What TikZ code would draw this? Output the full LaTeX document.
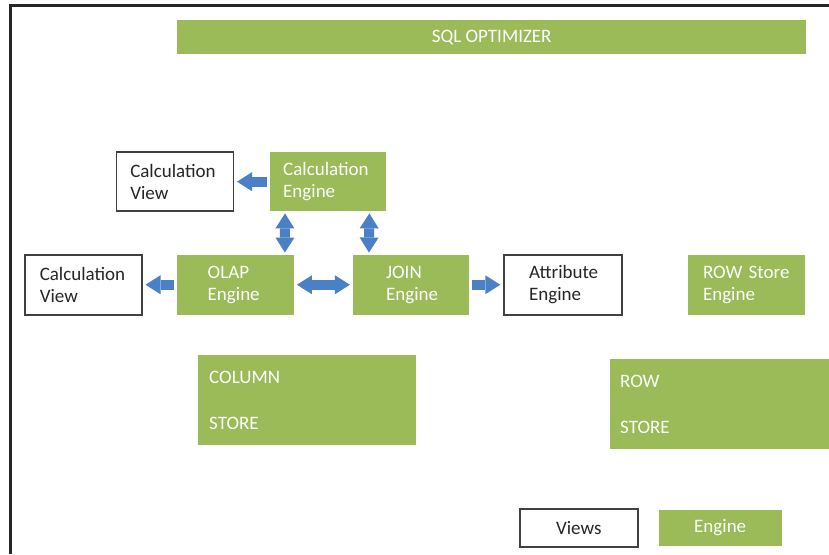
\documentclass[tikz,border=0pt]{standalone}
\usepackage{fontspec}
\setmainfont{Carlito}
\usetikzlibrary{positioning,arrows.meta}
\definecolor{enggreen}{RGB}{155,187,89}
\definecolor{flowblue}{RGB}{74,128,198}
\definecolor{viewtext}{RGB}{38,38,38}

\begin{document}
\begin{tikzpicture}[
        x=1pt, y=-1pt,
        node distance=36pt,
        engine/.style={rectangle, fill=enggreen, text=white, anchor=north west,
                       align=left, inner ysep=0pt, font=\fontsize{19}{22}\selectfont},
        views/.style={rectangle, draw=black!75, line width=1.5pt, fill=white, text=viewtext,
                      anchor=north west, align=left, inner ysep=0pt, font=\fontsize{19}{22}\selectfont},
        flow/.style={draw=flowblue, line width=10pt, shorten <=3pt, shorten >=3pt,
                     -{Triangle[length=15pt, width=19pt, line width=0pt]}},
        twoway/.style={draw=flowblue, line width=10pt, shorten <=3pt, shorten >=3pt,
                       {Triangle[length=15pt, width=19pt, line width=0pt]}-{Triangle[length=15pt, width=19pt, line width=0pt]}}
    ]
    \useasboundingbox (0,0) rectangle (829,554);
    % frame
    \draw[line width=2.5pt, black!85] (829,5.5) -- (10.5,5.5) -- (10.5,554);

    \node[engine, align=center, minimum width=629pt, minimum height=34pt] (optimizer) at (177,20) {SQL OPTIMIZER};

    % top row
    \node[engine, text width=90pt, inner xsep=13pt, minimum height=59pt] (calcengine) at (270,152) {Calculation\\Engine};
    \node[views, text width=89pt, inner xsep=14pt, minimum height=59pt, left=36pt of calcengine] (calcview) {Calculation\\View};

    % middle row
    \node[views, text width=87pt, inner xsep=15pt, minimum height=60pt] (olapview) at (24,254) {Calculation\\View};
    \node[engine, text width=55pt, inner xsep=31pt, minimum height=60pt, right=34pt of olapview] (olap) {OLAP\\Engine};
    \node[engine, text width=50pt, inner xsep=33pt, minimum height=60pt, right=59pt of olap] (join) {JOIN\\Engine};
    \node[views, text width=68pt, inner xsep=25pt, minimum height=60pt, right=34pt of join] (attribute) {Attribute\\Engine};
    \node[engine, text width=87pt, inner xsep=15pt, minimum height=60pt, right=65pt of attribute] (rowengine) {ROW Store\\Engine};

    % stores
    \node[engine, text width=196pt, inner xsep=11pt, minimum height=90pt] (columnstore) at (198,355) {COLUMN\\[24pt]STORE};
    \node[engine, text width=199pt, inner xsep=10pt, minimum height=90pt] (rowstore) at (610,359) {ROW\\[24pt]STORE};

    % legend
    \node[views, align=center, minimum width=118pt, minimum height=38pt] (legendviews) at (519,508) {Views};
    \node[engine, align=center, minimum width=123pt, minimum height=36pt, right=20pt of legendviews] (legendengine) {Engine};

    \draw[flow] (calcengine) -- (calcview);
    \draw[flow] (olap) -- (olapview);
    \draw[twoway] (olap) -- (join);
    \draw[flow] (join) -- (attribute);
    \draw[twoway, shorten <=2pt, shorten >=2pt] ([xshift=15pt]calcengine.south west) -- ([xshift=-9pt]olap.north east);
    \draw[twoway, shorten <=2pt, shorten >=2pt] ([xshift=-17pt]calcengine.south east) -- ([xshift=16pt]join.north west);
\end{tikzpicture}
\end{document}
